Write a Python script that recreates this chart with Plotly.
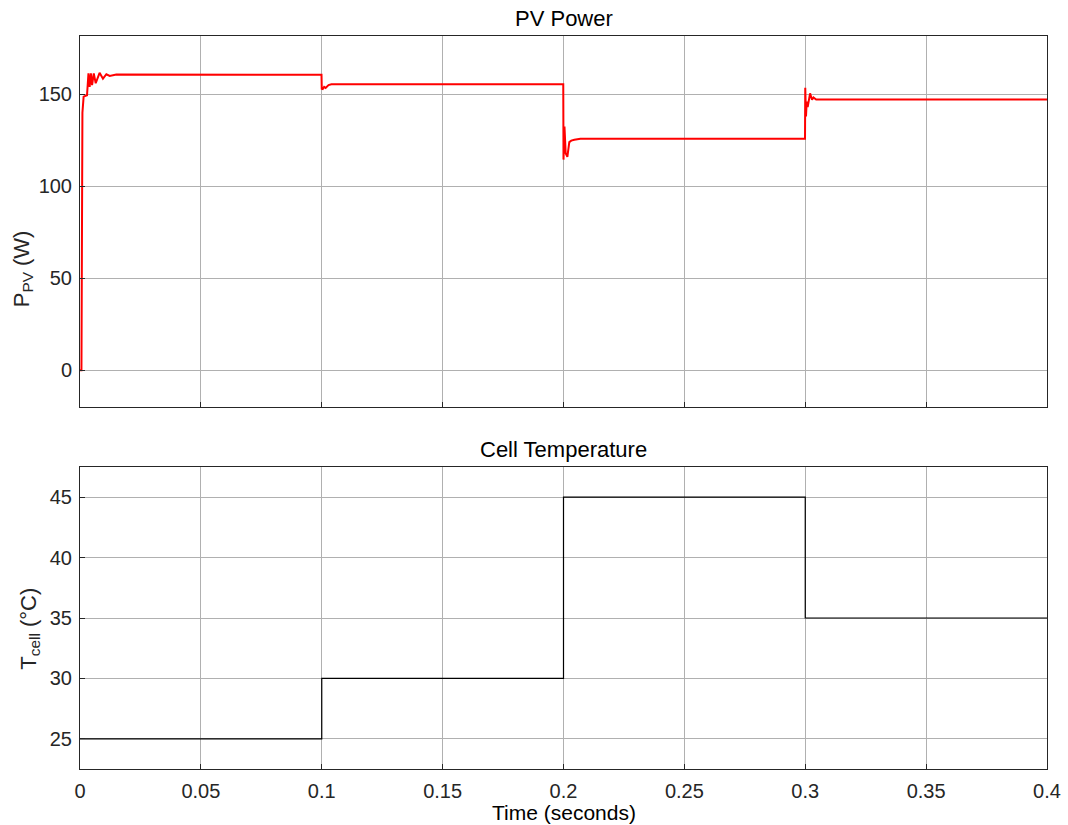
import plotly.graph_objects as go
from plotly.subplots import make_subplots

# PV output power: breakpoints of the simulated trace (time in s, power in W)
pv_time = [0.0, 0.0006, 0.0010, 0.0015, 0.0029, 0.0035, 0.0040, 0.0045, 0.0050,
           0.0057, 0.0065, 0.0081, 0.0095, 0.0109, 0.0123, 0.0150, 0.0999,
           0.1000, 0.1004, 0.1010, 0.1016, 0.1028, 0.1040, 0.1999,
           0.2000, 0.2004, 0.2009, 0.2016, 0.2024, 0.2032, 0.2045, 0.2070, 0.2999,
           0.3000, 0.3003, 0.3006, 0.3010, 0.3020, 0.3028, 0.3034, 0.3045, 0.4000]
pv_power = [0.0, 0.0, 140.0, 148.7, 149.5, 161.4, 154.0, 161.4, 155.0,
            161.4, 156.0, 161.7, 158.5, 160.9, 160.0, 160.7, 160.6,
            153.0, 152.8, 154.0, 153.5, 155.0, 155.4, 155.4,
            114.5, 132.5, 118.0, 116.0, 124.0, 124.8, 125.3, 125.8, 125.8,
            153.5, 138.0, 146.0, 143.0, 150.5, 147.0, 148.3, 147.2, 147.2]

# Cell temperature profile (step changes every 0.1 s)
temp_time = [0.0, 0.1, 0.2, 0.3, 0.4]
temp_cell = [25, 30, 45, 35, 35]

x_ticks = [0, 0.05, 0.1, 0.15, 0.2, 0.25, 0.3, 0.35, 0.4]
x_tick_text = ["0", "0.05", "0.1", "0.15", "0.2", "0.25", "0.3", "0.35", "0.4"]
pv_ticks = [0, 50, 100, 150]
temp_ticks = [25, 30, 35, 40, 45]

FONT = "Liberation Sans, Arial, Helvetica, sans-serif"
AXIS_COLOR = "#262626"
GRID_COLOR = "#b0b0b0"

fig = make_subplots(rows=2, cols=1, shared_xaxes=False, vertical_spacing=0.08)

fig.add_trace(go.Scatter(x=pv_time, y=pv_power, mode="lines",
                         line=dict(color="#ff0000", width=2), showlegend=False),
              row=1, col=1)
fig.add_trace(go.Scatter(x=temp_time, y=temp_cell, mode="lines",
                         line=dict(color="#000000", width=1.2, shape="hv"),
                         showlegend=False),
              row=2, col=1)

axis_common = dict(showline=True, mirror=True, linecolor=AXIS_COLOR, linewidth=1,
                   showgrid=True, gridcolor=GRID_COLOR, gridwidth=1,
                   zeroline=False, ticks="inside", ticklen=5, tickcolor=AXIS_COLOR,
                   automargin=False,
                   tickfont=dict(family=FONT, size=20, color=AXIS_COLOR))

fig.update_xaxes(axis_common)
fig.update_yaxes(axis_common)

fig.update_layout(
    width=1068, height=825,
    margin=dict(l=80, r=21, t=36, b=56),
    paper_bgcolor="white", plot_bgcolor="white",
    font=dict(family=FONT, color="#000000"),
    xaxis=dict(domain=[0, 1], range=[0, 0.4], tickvals=x_ticks, showticklabels=False),
    yaxis=dict(domain=[0.4939, 1.0], range=[-20, 181.7], tickvals=pv_ticks,
               ticklabelstandoff=3),
    xaxis2=dict(domain=[0, 1], range=[0, 0.4], tickvals=x_ticks, ticktext=x_tick_text,
                ticklabelstandoff=4),
    yaxis2=dict(domain=[0.0, 0.4120], range=[22.5, 47.5], tickvals=temp_ticks,
                ticklabelstandoff=3),
)

# Axis labels
fig.add_annotation(text="Time (seconds)", xref="paper", yref="paper",
                   x=0.5, y=-0.0587, showarrow=False,
                   xanchor="center", yanchor="middle",
                   font=dict(family=FONT, size=21, color="#000000"))
fig.add_annotation(text="P<sub>PV</sub> (W)", xref="paper", yref="paper",
                   x=-0.059, y=0.683, textangle=-90, showarrow=False,
                   xanchor="center", yanchor="middle",
                   font=dict(family=FONT, size=22, color=AXIS_COLOR))
fig.add_annotation(text="T<sub>cell</sub> (°C)", xref="paper", yref="paper",
                   x=-0.052, y=0.191, textangle=-90, showarrow=False,
                   xanchor="center", yanchor="middle",
                   font=dict(family=FONT, size=22, color=AXIS_COLOR))

# Subplot titles
fig.add_annotation(text="PV Power", xref="paper", yref="paper", x=0.5, y=1.0,
                   yshift=18, showarrow=False, yanchor="middle",
                   font=dict(family=FONT, size=22, color="#000000"))
fig.add_annotation(text="Cell Temperature", xref="paper", yref="paper", x=0.5, y=0.4120,
                   yshift=18, showarrow=False, yanchor="middle",
                   font=dict(family=FONT, size=22, color="#000000"))

fig.write_html("out.html")
